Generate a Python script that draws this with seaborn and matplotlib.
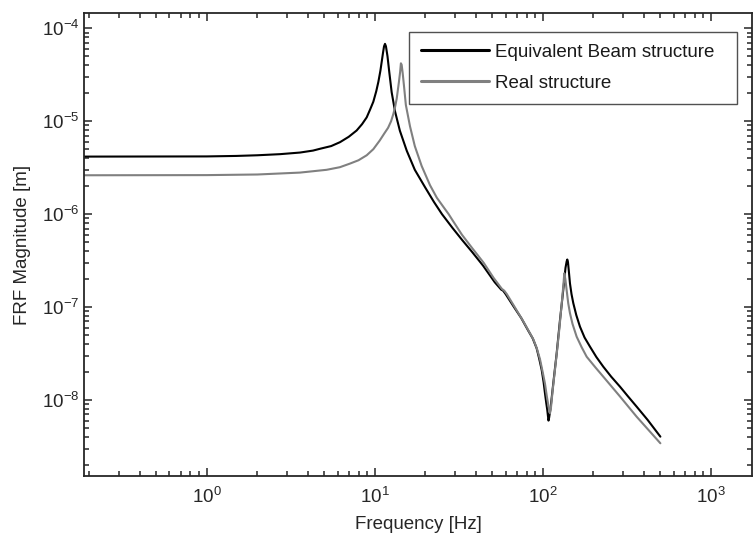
import numpy as np
import pandas as pd
import matplotlib
matplotlib.use("Agg")
import matplotlib.pyplot as plt
import seaborn as sns
from matplotlib.ticker import LogLocator, NullFormatter

# =========================
# DATA
# =========================
beam_freq = [0.18, 1.0, 1.5, 2.0, 2.73, 3.59, 4.29, 4.72, 5.5, 6.21, 7.0, 7.8, 8.4,
             8.95, 9.4, 9.8, 10.2, 10.5, 10.8, 11.0, 11.2, 11.35, 11.5, 11.65, 11.9,
             12.2, 12.6, 13.2, 14.1, 15.5, 17.3, 19.9, 22.5, 25.1, 29.0, 33.0, 38.0,
             44.0, 51.7, 56.5, 58.0, 60.0, 67.3, 74.4, 81.7, 87.0, 91.8, 95.0, 98.4,
             101.0, 102.9, 104.8, 106.2, 107.3, 108.0, 109.0, 111.2, 115.3, 120.8,
             126.4, 132.2, 136.3, 138.5, 139.7, 141.0, 142.5, 144.9, 148.0, 151.7,
             158.0, 166.2, 177.0, 190.6, 208.0, 228.8, 255.0, 287.6, 320.0, 361.4,
             420.0, 500.0]
beam_mag = [4.16e-6, 4.18e-6, 4.23e-6, 4.30e-6, 4.42e-6, 4.60e-6, 4.83e-6, 5.05e-6,
            5.40e-6, 5.95e-6, 6.80e-6, 7.95e-6, 9.30e-6, 1.10e-5, 1.35e-5, 1.62e-5,
            2.10e-5, 2.65e-5, 3.50e-5, 4.40e-5, 5.50e-5, 6.40e-5, 6.80e-5, 6.40e-5,
            5.00e-5, 3.35e-5, 2.05e-5, 1.27e-5, 7.90e-6, 4.80e-6, 3.00e-6, 1.95e-6,
            1.35e-6, 1.00e-6, 7.10e-7, 5.30e-7, 3.90e-7, 2.80e-7, 1.85e-7, 1.54e-7,
            1.50e-7, 1.38e-7, 1.00e-7, 7.60e-8, 5.60e-8, 4.60e-8, 3.60e-8, 2.80e-8,
            2.10e-8, 1.55e-8, 1.18e-8, 9.20e-9, 7.80e-9, 6.60e-9, 6.00e-9, 6.50e-9,
            8.30e-9, 1.51e-8, 3.18e-8, 7.26e-8, 1.53e-7, 2.64e-7, 3.10e-7, 3.25e-7,
            3.05e-7, 2.50e-7, 1.80e-7, 1.38e-7, 1.10e-7, 8.20e-8, 6.15e-8, 4.70e-8,
            3.75e-8, 2.90e-8, 2.28e-8, 1.78e-8, 1.39e-8, 1.10e-8, 8.47e-9, 6.10e-9,
            4.03e-9]

real_freq = [0.18, 1.0, 2.0, 3.59, 5.17, 6.2, 7.12, 8.0, 8.95, 9.8, 10.7, 11.4, 12.0,
             12.5, 12.9, 13.2, 13.5, 13.9, 14.15, 14.3, 14.45, 14.65, 14.9, 15.3,
             16.2, 17.3, 19.0, 21.3, 23.4, 26.0, 27.5, 29.0, 33.0, 38.0, 44.4, 51.0,
             57.0, 58.9, 61.0, 67.3, 76.9, 87.7, 92.0, 96.1, 100.0, 102.9, 105.5,
             107.7, 109.2, 110.2, 111.5, 114.4, 120.8, 125.0, 129.4, 132.5, 134.1,
             136.0, 138.6, 141.5, 144.9, 150.0, 158.8, 170.0, 182.2, 205.0, 228.8,
             287.6, 361.4, 500.0]
real_mag = [2.62e-6, 2.63e-6, 2.67e-6, 2.80e-6, 3.00e-6, 3.20e-6, 3.50e-6, 3.80e-6,
            4.30e-6, 5.00e-6, 6.20e-6, 7.40e-6, 8.50e-6, 1.00e-5, 1.20e-5, 1.42e-5,
            1.75e-5, 2.60e-5, 3.40e-5, 4.20e-5, 4.05e-5, 3.30e-5, 2.45e-5, 1.50e-5,
            8.80e-6, 5.40e-6, 3.30e-6, 2.05e-6, 1.50e-6, 1.15e-6, 1.00e-6, 8.60e-7,
            6.00e-7, 4.30e-7, 3.00e-7, 2.05e-7, 1.57e-7, 1.50e-7, 1.38e-7, 1.03e-7,
            6.90e-8, 4.50e-8, 3.60e-8, 2.75e-8, 1.95e-8, 1.50e-8, 1.10e-8, 8.80e-9,
            7.60e-9, 7.20e-9, 8.00e-9, 1.28e-8, 3.10e-8, 5.60e-8, 1.08e-7, 1.75e-7,
            2.31e-7, 2.00e-7, 1.50e-7, 1.10e-7, 8.60e-8, 6.60e-8, 4.80e-8, 3.70e-8,
            2.92e-8, 2.25e-8, 1.78e-8, 1.09e-8, 6.60e-9, 3.42e-9]

labels = ["Equivalent Beam structure", "Real structure"]
colors = ["black", "#808080"]

df = pd.concat([
    pd.DataFrame({"freq": beam_freq, "mag": beam_mag, "structure": labels[0]}),
    pd.DataFrame({"freq": real_freq, "mag": real_mag, "structure": labels[1]}),
])

# =========================
# STYLE
# =========================
sns.set_theme(style="ticks")
plt.rcParams["font.family"] = ["Liberation Sans", "DejaVu Sans"]
plt.rcParams["mathtext.fontset"] = "custom"
plt.rcParams["mathtext.rm"] = "Liberation Sans"
plt.rcParams["mathtext.it"] = "Liberation Sans:italic"
plt.rcParams["axes.unicode_minus"] = False

axis_col = "#262626"

# =========================
# PLOT
# =========================
fig = plt.figure(figsize=(7.54, 5.45), dpi=100)
ax = fig.add_axes([0.1114, 0.1266, 0.8866, 0.8490])

sns.lineplot(data=df, x="freq", y="mag", hue="structure", hue_order=labels,
             palette=dict(zip(labels, colors)), linewidth=1.5, ax=ax,
             legend=False, estimator=None, sort=False)

ax.set_xscale("log")
ax.set_yscale("log")
ax.set_xlim(0.1862, 1766)
ax.set_ylim(1.52e-9, 1.45e-4)

ax.xaxis.set_major_locator(LogLocator(base=10, numticks=20))
ax.xaxis.set_minor_locator(LogLocator(base=10, subs=np.arange(2, 10), numticks=50))
ax.yaxis.set_major_locator(LogLocator(base=10, numticks=20))
ax.yaxis.set_minor_locator(LogLocator(base=10, subs=np.arange(2, 10), numticks=50))
ax.xaxis.set_minor_formatter(NullFormatter())
ax.yaxis.set_minor_formatter(NullFormatter())

ax.tick_params(which="both", direction="in", top=True, right=True,
               color=axis_col, labelcolor=axis_col, labelsize=13.5, width=1.1)
ax.tick_params(which="major", length=6)
ax.tick_params(which="minor", length=3.5)
ax.tick_params(axis="x", which="major", pad=8)
for sp in ax.spines.values():
    sp.set_visible(True)
    sp.set_color(axis_col)
    sp.set_linewidth(1.3)

ax.set_xlabel("Frequency [Hz]", fontsize=13.5, color=axis_col, labelpad=6)
ax.set_ylabel("FRF Magnitude [m]", fontsize=13.5, color=axis_col, labelpad=7.5)

handles = [plt.Line2D([], [], color=c, linewidth=2.2) for c in colors]
leg = ax.legend(handles, [labels[0] + "  ", labels[1]], loc="upper right",
                bbox_to_anchor=(0.9764, 0.9603), borderaxespad=0, fontsize=13.5,
                frameon=True, fancybox=False, handlelength=3.63,
                handletextpad=0.32, labelspacing=0.75, borderpad=0.63)
leg.get_frame().set_edgecolor(axis_col)
leg.get_frame().set_linewidth(1.0)
for t in leg.get_texts():
    t.set_color("#1a1a1a")

fig.savefig("out.png", dpi=100)
